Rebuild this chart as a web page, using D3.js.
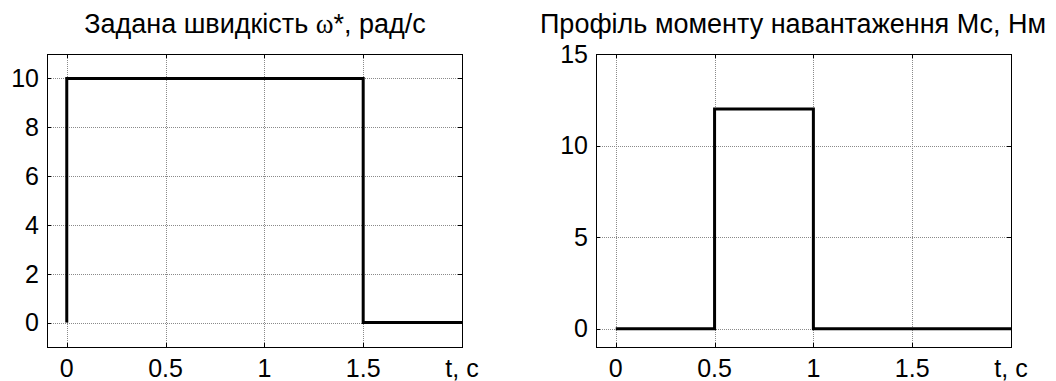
<!DOCTYPE html>
<html>
<head>
<meta charset="utf-8">
<script src="https://cdn.jsdelivr.net/npm/d3@7"></script>
<style>
  body { margin: 0; background: #fff; }
  svg { display: block; }
  text { font-family: "Liberation Sans", Arial, sans-serif; fill: #000; }
</style>
</head>
<body>
<div id="chart"></div>
<script>
// speed reference profile
var speed_t = [0, 0, 1.5, 1.5, 2];
var speed_w = [0, 10, 10, 0, 0];
// load torque profile
var load_t = [0, 0.5, 0.5, 1, 1, 2];
var load_m = [0, 0, 12, 12, 0, 0];

var x_ticks = [0, 0.5, 1, 1.5, 2];
var x_tick_labels = ["0", "0.5", "1", "1.5", "t, c"];
var speed_y_ticks = [0, 2, 4, 6, 8, 10];
var load_y_ticks = [0, 5, 10, 15];

var W = 1056, H = 381;
var tick_font = 25;
var title_font = 27;

var svg = d3.select("#chart").append("svg")
    .attr("width", W)
    .attr("height", H);

function crisp(v) {
    return Math.round(v) + 0.5;
}

function drawPanel(p) {
    var x = d3.scaleLinear().domain([-0.1, 2]).range([p.left, p.right]);
    var y = d3.scaleLinear().domain(p.ydomain).range([p.bottom, p.top]);
    var g = svg.append("g");

    // grid
    g.selectAll("line.gx").data(x_ticks).enter().append("line")
        .attr("x1", function (d) { return crisp(x(d)); })
        .attr("x2", function (d) { return crisp(x(d)); })
        .attr("y1", p.top).attr("y2", p.bottom)
        .style("stroke", "#8a8a8a").style("stroke-dasharray", "1,1");
    g.selectAll("line.gy").data(p.yticks).enter().append("line")
        .attr("y1", function (d) { return crisp(y(d)); })
        .attr("y2", function (d) { return crisp(y(d)); })
        .attr("x1", p.left).attr("x2", p.right)
        .style("stroke", "#8a8a8a").style("stroke-dasharray", "1,1");

    // inner ticks on all four sides
    var tl = 4;
    x_ticks.forEach(function (d) {
        var xx = crisp(x(d));
        g.append("line").attr("x1", xx).attr("x2", xx).attr("y1", p.bottom).attr("y2", p.bottom - tl).style("stroke", "#000");
        g.append("line").attr("x1", xx).attr("x2", xx).attr("y1", p.top).attr("y2", p.top + tl).style("stroke", "#000");
    });
    p.yticks.forEach(function (d) {
        var yy = crisp(y(d));
        g.append("line").attr("y1", yy).attr("y2", yy).attr("x1", p.left).attr("x2", p.left + tl).style("stroke", "#000");
        g.append("line").attr("y1", yy).attr("y2", yy).attr("x1", p.right).attr("x2", p.right - tl).style("stroke", "#000");
    });

    // box
    g.append("rect")
        .attr("x", crisp(p.left)).attr("y", crisp(p.top))
        .attr("width", Math.round(p.right) - Math.round(p.left))
        .attr("height", Math.round(p.bottom) - Math.round(p.top))
        .style("fill", "none").style("stroke", "#000");

    // data
    var line = d3.line()
        .x(function (d) { return x(d[0]); })
        .y(function (d) { return y(d[1]); });
    g.append("path")
        .datum(d3.zip(p.xs, p.ys))
        .attr("d", line)
        .style("fill", "none")
        .style("stroke", "#000")
        .style("stroke-width", 3)
        .style("stroke-linejoin", "miter");

    // x tick labels
    g.selectAll("text.xl").data(x_ticks).enter().append("text")
        .attr("x", function (d) { return x(d); })
        .attr("y", 377)
        .style("text-anchor", "middle")
        .style("font-size", tick_font + "px")
        .text(function (d, i) { return x_tick_labels[i]; });

    // y tick labels
    g.selectAll("text.yl").data(p.yticks).enter().append("text")
        .attr("x", p.left - 8)
        .attr("y", function (d) { return y(d); })
        .attr("dy", "0.35em")
        .style("text-anchor", "end")
        .style("font-size", tick_font + "px")
        .text(function (d) { return d; });

    // title
    var t = g.append("text")
        .attr("x", p.titlex)
        .attr("y", 33)
        .style("text-anchor", "middle")
        .style("font-size", title_font + "px");
    p.title.forEach(function (part) {
        var s = t.append("tspan").text(part.text);
        if (part.serif) s.style("font-family", "'Liberation Serif', 'Times New Roman', serif");
    });
}

drawPanel({
    left: 47, right: 462, top: 54, bottom: 347,
    ydomain: [-1, 11], yticks: speed_y_ticks,
    xs: speed_t, ys: speed_w,
    titlex: 255,
    title: [{text: "Задана швидкість "}, {text: "ω", serif: true}, {text: "*, рад/с"}]
});

drawPanel({
    left: 596, right: 1011, top: 54, bottom: 347,
    ydomain: [-1, 15], yticks: load_y_ticks,
    xs: load_t, ys: load_m,
    titlex: 793,
    title: [{text: "Профіль моменту навантаження Мс, Нм"}]
});
</script>
</body>
</html>
